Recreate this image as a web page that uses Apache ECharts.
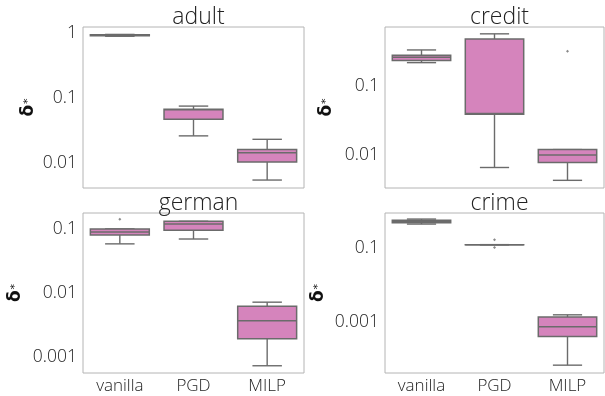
<!DOCTYPE html>
<html>
<head>
<meta charset="utf-8">
<script src="https://cdn.jsdelivr.net/npm/echarts@6/dist/echarts.min.js"></script>
<style>html,body{margin:0;padding:0;background:#fff}#c{width:605px;height:396px}</style>
</head>
<body>
<div id="c"></div>
<script>
// ---- data (raw δ* values: [min, Q1, median, Q3, max]) ----
const categories = ['vanilla', 'PGD', 'MILP'];
const panelNames = ['adult', 'credit', 'german', 'crime'];

const adultBoxes = [
  [0.90, 0.915, 0.93, 0.945, 0.96],
  [0.026, 0.047, 0.066, 0.067, 0.075],
  [0.0054, 0.0103, 0.0143, 0.016, 0.023]
];
const creditBoxes = [
  [0.218, 0.235, 0.26, 0.28, 0.333],
  [0.0066, 0.039, 0.040, 0.48, 0.57],
  [0.0043, 0.0078, 0.010, 0.012, 0.012]
];
const germanBoxes = [
  [0.058, 0.080, 0.089, 0.099, 0.099],
  [0.069, 0.094, 0.118, 0.13, 0.13],
  [0.00074, 0.00195, 0.0037, 0.0062, 0.0072]
];
const crimeBoxes = [
  [0.44, 0.48, 0.52, 0.56, 0.60],
  [0.123, 0.123, 0.123, 0.123, 0.123],
  [0.000071, 0.00042, 0.00077, 0.00139, 0.0016]
];

// outliers: [categoryIndex, value]
const adultOutliers = [];
const creditOutliers = [[2, 0.32]];
const germanOutliers = [[0, 0.14]];
const crimeOutliers = [[1, 0.167], [1, 0.104]];

// y-axis tick labels
const adultTicks = [1, 0.1, 0.01];
const creditTicks = [0.1, 0.01];
const germanTicks = [0.1, 0.01, 0.001];
const crimeTicks = [0.1, 0.001];

// y-axis ranges (raw values)
const adultRange = [0.00407, 1.25];
const creditRange = [0.00333, 0.716];
const germanRange = [0.000571, 0.175];
const crimeRange = [0.0000437, 0.873];

// ---- chart ----
const FONT = 'Open Sans';
const TXT = '#222';
const EDGE = '#6b6b6b';
const FILL = '#d584bc';

const boxesAll = [adultBoxes, creditBoxes, germanBoxes, crimeBoxes];
const outAll = [adultOutliers, creditOutliers, germanOutliers, crimeOutliers];
const ticksAll = [adultTicks, creditTicks, germanTicks, crimeTicks];
const rangesAll = [adultRange, creditRange, germanRange, crimeRange];

const grids = [
  {left: 83, top: 27, width: 221, height: 161},
  {left: 385, top: 27, width: 219, height: 161},
  {left: 83, top: 213, width: 221, height: 160},
  {left: 385, top: 213, width: 219, height: 160}
];
const nameGaps = [46, 50, 59, 58];
const titleTops = [1, 1, 187, 187];

const L = Math.log10;

function renderBox(params, api) {
  const x = api.value(0);
  const c = v => api.coord([x, v]);
  const bw = api.size([1, 0])[0] * 0.8;
  const cx = c(api.value(3))[0];
  const yMin = c(api.value(1))[1];
  const yQ1 = c(api.value(2))[1];
  const yMed = c(api.value(3))[1];
  const yQ3 = c(api.value(4))[1];
  const yMax = c(api.value(5))[1];
  const ls = {stroke: EDGE, lineWidth: 1.4};
  return {
    type: 'group',
    children: [
      {type: 'line', shape: {x1: cx, y1: yQ1, x2: cx, y2: yMin}, style: ls},
      {type: 'line', shape: {x1: cx, y1: yQ3, x2: cx, y2: yMax}, style: ls},
      {type: 'line', shape: {x1: cx - bw / 4, y1: yMin, x2: cx + bw / 4, y2: yMin}, style: ls},
      {type: 'line', shape: {x1: cx - bw / 4, y1: yMax, x2: cx + bw / 4, y2: yMax}, style: ls},
      {type: 'rect', shape: {x: cx - bw / 2, y: yQ3, width: bw, height: Math.max(yQ1 - yQ3, 0.01)},
        style: {fill: FILL, stroke: EDGE, lineWidth: 1.5}},
      {type: 'line', shape: {x1: cx - bw / 2, y1: yMed, x2: cx + bw / 2, y2: yMed}, style: {stroke: EDGE, lineWidth: 1.5}}
    ]
  };
}

const option = {
  animation: false,
  backgroundColor: '#fff',
  textStyle: {fontFamily: FONT},
  title: panelNames.map((n, i) => ({
    text: n,
    left: grids[i].left + grids[i].width / 2,
    textAlign: 'center',
    top: titleTops[i],
    textStyle: {fontFamily: FONT, fontSize: 23, fontWeight: 300, color: TXT}
  })),
  grid: grids.map(g => Object.assign({show: true, borderColor: '#b4b4b4', borderWidth: 1, backgroundColor: 'transparent'}, g)),
  xAxis: grids.map((g, i) => ({
    type: 'category',
    gridIndex: i,
    data: categories,
    boundaryGap: true,
    axisLine: {show: false},
    axisTick: {show: false},
    splitLine: {show: false},
    axisLabel: {show: i >= 2, fontFamily: FONT, fontSize: 17, fontWeight: 300, color: TXT, margin: 5}
  })),
  yAxis: grids.map((g, i) => ({
    type: 'value',
    gridIndex: i,
    min: L(rangesAll[i][0]),
    max: L(rangesAll[i][1]),
    axisLine: {show: false},
    axisTick: {show: false},
    splitLine: {show: false},
    axisLabel: {
      fontFamily: FONT, fontSize: 17.5, fontWeight: 300, color: TXT, margin: 6,
      customValues: ticksAll[i].map(L),
      formatter: v => String(+Math.pow(10, v).toPrecision(3))
    },
    name: '{d|δ}{s|*}',
    nameLocation: 'middle',
    nameRotate: 90,
    nameGap: nameGaps[i],
    nameTextStyle: {
      rich: {
        d: {fontFamily: 'DejaVu Sans', fontSize: 17, fontWeight: 'bold', color: '#111'},
        s: {fontFamily: 'DejaVu Sans', fontSize: 11, color: '#111', padding: [0, 0, 0, 1]}
      }
    }
  })),
  series: [].concat(
    boxesAll.map((boxes, i) => ({
      type: 'custom',
      xAxisIndex: i,
      yAxisIndex: i,
      renderItem: renderBox,
      encode: {x: 0, y: [1, 2, 3, 4, 5]},
      data: boxes.map((b, k) => [k].concat(b.map(L)))
    })),
    outAll.map((outs, i) => ({
      type: 'scatter',
      xAxisIndex: i,
      yAxisIndex: i,
      symbol: 'diamond',
      symbolSize: 3,
      itemStyle: {color: EDGE},
      data: outs.map(o => [o[0], L(o[1])])
    }))
  )
};

const chart = echarts.init(document.getElementById('c'), null, {renderer: 'canvas'});
chart.setOption(option);
</script>
</body>
</html>
